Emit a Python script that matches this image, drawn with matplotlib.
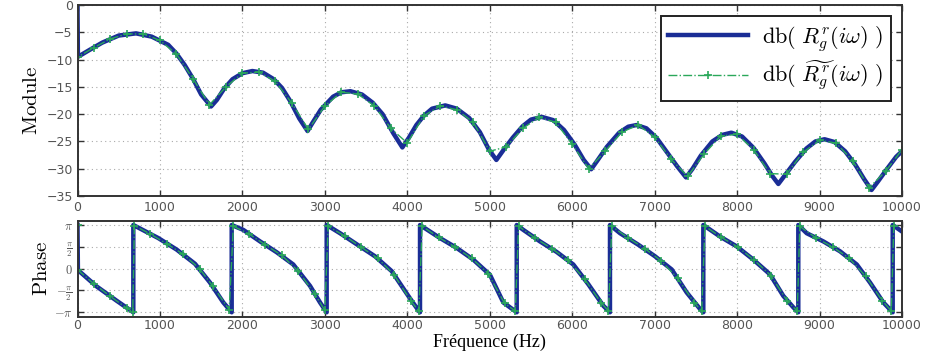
import matplotlib
matplotlib.use("Agg")
import matplotlib.pyplot as plt
import numpy as np

plt.rcParams["mathtext.fontset"] = "cm"

# module (dB) - exact response
freq_mod = [0, 5, 150, 300, 500, 710, 900, 1100, 1200, 1300, 1400, 1500, 1620, 1690, 1780,
            1880, 2000, 2120, 2250, 2380, 2480, 2580, 2690, 2790, 2850, 2950, 3100, 3200,
            3310, 3450, 3580, 3700, 3830, 3940, 4020, 4110, 4200, 4300, 4460, 4600, 4750,
            4880, 4990, 5080, 5170, 5280, 5400, 5500, 5630, 5770, 5900, 6030, 6140, 6230,
            6310, 6420, 6570, 6680, 6780, 6900, 7020, 7150, 7270, 7380, 7460, 7560, 7700,
            7820, 7930, 8060, 8200, 8330, 8430, 8500, 8580, 8700, 8840, 8950, 9060, 9180,
            9310, 9430, 9540, 9630, 9710, 9820, 9930, 10000]
mod_exact = [0, -9.5, -8.2, -6.9, -5.6, -5.2, -5.8, -7.3, -8.9, -11.0, -13.5, -16.4, -18.6,
             -17.4, -15.3, -13.6, -12.5, -12.1, -12.4, -13.6, -15.2, -17.6, -20.8, -23.1,
             -21.6, -19.2, -16.8, -16.0, -15.8, -16.4, -17.9, -20.0, -23.5, -26.1, -24.3,
             -22.0, -20.3, -19.0, -18.4, -19.0, -20.7, -23.3, -26.5, -28.4, -26.5, -24.3,
             -22.2, -21.0, -20.5, -21.1, -22.9, -25.6, -28.4, -30.1, -28.4, -26.0, -23.4,
             -22.3, -22.0, -22.6, -24.3, -27.0, -29.5, -31.6, -30.0, -27.6, -25.0, -23.8,
             -23.4, -24.1, -26.2, -29.0, -31.4, -32.8, -31.2, -28.8, -26.3, -25.0, -24.6,
             -25.1, -26.8, -29.2, -31.9, -33.9, -32.3, -30.0, -27.8, -26.8]

# module (dB) - approximation
freq_mod_approx = [0, 5, 200, 400, 600, 800, 1000, 1200, 1400, 1600, 1800, 2000, 2200, 2400,
                   2600, 2800, 3000, 3200, 3400, 3600, 3800, 4000, 4200, 4400, 4600, 4800,
                   5000, 5200, 5400, 5600, 5800, 6000, 6200, 6400, 6600, 6800, 7000, 7200,
                   7400, 7600, 7800, 8000, 8200, 8400, 8600, 8800, 9000, 9200, 9400, 9600,
                   9800, 10000]
mod_approx = [0, -9.5, -7.8, -6.2, -5.3, -5.3, -6.5, -9.0, -13.5, -18.3, -15.0, -12.5, -12.3,
              -14.0, -18.0, -22.8, -18.5, -16.0, -16.3, -18.5, -22.6, -25.3, -20.3, -18.5,
              -19.2, -21.5, -26.8, -26.0, -22.6, -20.6, -21.5, -25.5, -30.0, -26.8, -23.3,
              -22.0, -24.2, -28.3, -31.4, -27.3, -24.0, -23.7, -26.5, -30.9, -31.0, -27.0,
              -24.8, -25.3, -28.5, -33.5, -30.5, -26.5]

# phase (rad) - exact response
freq_ph = [0, 5, 230, 475, 677,
           677, 980, 1203, 1425, 1607, 1768, 1870,
           1870, 2011, 2214, 2416, 2617, 2820, 2941, 3022,
           3022, 3184, 3426, 3608, 3811, 4012, 4134, 4154,
           4154, 4397, 4599, 4800, 5003, 5164, 5327,
           5327, 5407, 5609, 5812, 6013, 6195, 6377, 6458,
           6458, 6580, 6802, 7004, 7207, 7389, 7550, 7590,
           7590, 7793, 7995, 8197, 8399, 8560, 8681, 8742,
           8742, 8844, 9046, 9248, 9451, 9612, 9773, 9887,
           9887, 10000]
ph_exact = [3.14, -0.1, -1.27, -2.31, -3.14,
            3.14, 2.2, 1.37, 0.35, -1.0, -2.43, -3.14,
            3.14, 2.79, 1.96, 1.18, 0.3, -1.24, -2.43, -3.14,
            3.14, 2.55, 1.6, 0.89, -0.18, -1.96, -3.0, -3.14,
            3.14, 2.2, 1.49, 0.65, -0.45, -2.43, -3.14,
            3.14, 2.79, 1.96, 1.2, 0.3, -1.12, -2.67, -3.14,
            3.14, 2.55, 1.72, 0.89, -0.06, -1.72, -2.9, -3.14,
            3.14, 2.31, 1.6, 0.65, -0.41, -1.96, -2.78, -3.14,
            3.14, 2.55, 1.96, 1.25, 0.3, -1.0, -2.43, -3.14,
            3.14, 2.67]

# phase (rad) - approximation
freq_ph_approx = [0, 5, 200, 400, 600, 670,
                  690, 880, 1080, 1280, 1480, 1640, 1840,
                  1890, 2080, 2280, 2480, 2680, 2880, 3000,
                  3040, 3240, 3440, 3640, 3840, 4040, 4140,
                  4180, 4380, 4580, 4780, 4980, 5180, 5310,
                  5350, 5550, 5750, 5950, 6150, 6350, 6440,
                  6480, 6680, 6880, 7080, 7280, 7480, 7570,
                  7610, 7810, 8010, 8210, 8410, 8610, 8730,
                  8760, 8960, 9160, 9360, 9560, 9760, 9870,
                  9900]
ph_approx = [3.14, -0.1, -1.1, -2.0, -2.85, -3.1,
             3.1, 2.5, 1.8, 1.05, 0.0, -1.25, -2.95,
             3.05, 2.5, 1.7, 0.95, -0.2, -1.85, -3.0,
             3.05, 2.35, 1.55, 0.75, -0.45, -2.3, -3.05,
             3.05, 2.25, 1.55, 0.75, -0.35, -2.5, -3.05,
             3.05, 2.2, 1.45, 0.6, -0.75, -2.45, -3.05,
             3.05, 2.2, 1.45, 0.55, -0.7, -2.45, -3.05,
             3.05, 2.25, 1.55, 0.6, -0.5, -2.35, -3.05,
             3.05, 2.2, 1.55, 0.75, -0.55, -2.3, -3.05,
             3.05]

xticks = list(range(0, 10001, 1000))
mod_ticks = [0, -5, -10, -15, -20, -25, -30, -35]
ph_ticks = [-np.pi, -np.pi / 2, 0, np.pi / 2, np.pi]
ph_ticklabels = [r"$-\pi$", r"$-\frac{\pi}{2}$", r"$0$", r"$\frac{\pi}{2}$", r"$\pi$"]

blue = "#1a2d96"
green = "#2aa85a"

fig = plt.figure(figsize=(9.36, 3.51), dpi=100)
ax1 = fig.add_axes([0.0828, 0.4416, 0.8809, 0.5442])
ax2 = fig.add_axes([0.0828, 0.0980, 0.8809, 0.2732])

l1, = ax1.plot(freq_mod, mod_exact, color=blue, lw=3.2, solid_joinstyle="round")
l2, = ax1.plot(freq_mod_approx, mod_approx, color=green, lw=1.0, ls="-.", marker="+",
               ms=6, mew=1.2)
ax2.plot(freq_ph, ph_exact, color=blue, lw=3.2)
ax2.plot(freq_ph_approx, ph_approx, color=green, lw=1.0, ls="-.", marker="+", ms=6, mew=1.2)

ax1.set_xlim(0, 10000)
ax1.set_ylim(-35, 0)
ax1.set_yticks(mod_ticks)
ax2.set_xlim(0, 10000)
ax2.set_ylim(-3.45, 3.45)
ax2.set_yticks(ph_ticks)
ax2.set_yticklabels(ph_ticklabels, fontsize=11)

for ax in (ax1, ax2):
    ax.set_xticks(xticks)
    ax.grid(True, ls=(0, (1, 3)), color="#aaaaaa", lw=0.8)
    ax.tick_params(direction="in", top=True, right=True, length=4, width=1,
                   colors="#333333", labelcolor="#555555", labelsize=9)
    for s in ax.spines.values():
        s.set_color("#333333")
        s.set_linewidth(1.4)
ax2.tick_params(axis="x", pad=2)

ax1.set_ylabel(r"$\mathrm{Module}$", fontsize=15, labelpad=4)
ax2.set_ylabel(r"$\mathrm{Phase}$", fontsize=15, labelpad=2)
ax2.set_xlabel("Fréquence (Hz)", family="Liberation Serif", fontsize=13, labelpad=1)

leg = ax1.legend([l1, l2],
                 [r"$\mathrm{db}(\ R_g^r(i\omega)\ )$",
                  r"$\mathrm{db}(\ \widetilde{R_g^r}(i\omega)\ )$"],
                 loc="upper right", fontsize=16, fancybox=False, framealpha=1,
                 edgecolor="#222222", borderaxespad=0.5, handlelength=3.6,
                 labelspacing=0.25, borderpad=0.35, handletextpad=0.6)
leg.get_frame().set_linewidth(1.4)

fig.savefig("out.png", dpi=100)
